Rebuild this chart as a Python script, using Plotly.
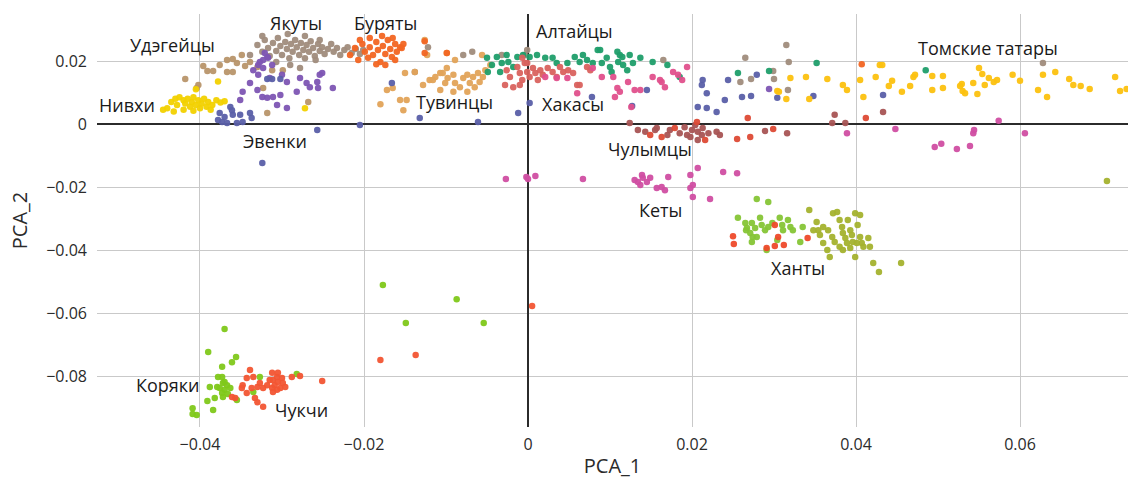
import plotly.graph_objects as go

# ---------------- data (PCA coordinates) ----------------
nivkh_x = [-0.0445, -0.0440, -0.0435, -0.0430, -0.0428, -0.0425, -0.0420, -0.0418, -0.0415, -0.0412,
           -0.0410, -0.0408, -0.0405, -0.0402, -0.0400, -0.0398, -0.0395, -0.0392, -0.0390, -0.0387,
           -0.0385, -0.0380, -0.0375, -0.0370, -0.0405, -0.0378, -0.0272, -0.0432, -0.0420, -0.0408]
nivkh_y = [0.0045, 0.0050, 0.0070, 0.0080, 0.0060, 0.0085, 0.0075, 0.0065, 0.0080, 0.0055,
           0.0070, 0.0085, 0.0060, 0.0075, 0.0050, 0.0065, 0.0080, 0.0055, 0.0070, 0.0045,
           0.0060, 0.0075, 0.0068, 0.0072, 0.0110, 0.0135, 0.0050, 0.0040, 0.0045, 0.0042]

tomsk_x = [0.0320, 0.0315, 0.0339, 0.0343, 0.0365, 0.0384, 0.0389, 0.0405, 0.0409, 0.0424,
           0.0429, 0.0432, 0.0440, 0.0444, 0.0456, 0.0466, 0.0470, 0.0472, 0.0493, 0.0493,
           0.0506, 0.0506, 0.0527, 0.0529, 0.0530, 0.0533, 0.0543, 0.0548, 0.0550, 0.0554,
           0.0557, 0.0562, 0.0568, 0.0572, 0.0591, 0.0600, 0.0622, 0.0628, 0.0633, 0.0643,
           0.0660, 0.0665, 0.0674, 0.0685, 0.0716, 0.0722, 0.0730, 0.0304, 0.0306]
tomsk_y = [0.0146, 0.0079, 0.0149, 0.0079, 0.0143, 0.0124, 0.0108, 0.0140, 0.0086, 0.0149,
           0.0187, 0.0187, 0.0121, 0.0137, 0.0102, 0.0121, 0.0149, 0.0156, 0.0152, 0.0108,
           0.0152, 0.0114, 0.0121, 0.0127, 0.0105, 0.0098, 0.0130, 0.0095, 0.0178, 0.0159,
           0.0124, 0.0146, 0.0133, 0.0140, 0.0156, 0.0137, 0.0108, 0.0156, 0.0086, 0.0165,
           0.0143, 0.0124, 0.0121, 0.0111, 0.0149, 0.0105, 0.0111, 0.0105, 0.0102]

udege_x = [-0.0367, -0.0360, -0.0355, -0.0349, -0.0391, -0.0384, -0.0367, -0.0360, -0.0418, -0.0402,
           -0.0404, -0.0339, -0.0330, -0.0323, -0.0312, -0.0299, -0.0268, -0.0318, -0.0376, -0.0345,
           -0.0396]
udege_y = [0.0203, 0.0206, 0.0194, 0.0219, 0.0168, 0.0168, 0.0165, 0.0165, 0.0143, 0.0124,
           0.0114, 0.0197, 0.0181, 0.0114, 0.0171, 0.0171, 0.0070, 0.0035, 0.0187, 0.0184,
           0.0184]

yakut_x = [-0.0330, -0.0324, -0.0321, -0.0317, -0.0315, -0.0311, -0.0307, -0.0305, -0.0302, -0.0300,
           -0.0296, -0.0294, -0.0291, -0.0289, -0.0287, -0.0284, -0.0282, -0.0279, -0.0277, -0.0274,
           -0.0272, -0.0270, -0.0267, -0.0265, -0.0262, -0.0260, -0.0256, -0.0254, -0.0251, -0.0248,
           -0.0244, -0.0240, -0.0237, -0.0233, -0.0229, -0.0224, -0.0220, -0.0215, -0.0210, -0.0205,
           -0.0201, -0.0290, -0.0278, -0.0307, -0.0339, -0.0324, -0.0293, -0.0272, -0.0254, -0.0259,
           0.0265, 0.0259, 0.0272, 0.0300, 0.0299, 0.0315, 0.0318, 0.0317, 0.0628,
           -0.0079, -0.0068, -0.0122, -0.0032, -0.0001, -0.0004, -0.0138, 0.0165]
yakut_y = [0.0251, 0.0229, 0.0267, 0.0241, 0.0216, 0.0257, 0.0232, 0.0273, 0.0248, 0.0219,
           0.0260, 0.0238, 0.0209, 0.0254, 0.0229, 0.0267, 0.0244, 0.0219, 0.0257, 0.0235,
           0.0209, 0.0251, 0.0229, 0.0263, 0.0241, 0.0216, 0.0254, 0.0232, 0.0244, 0.0222,
           0.0238, 0.0254, 0.0229, 0.0241, 0.0219, 0.0235, 0.0244, 0.0225, 0.0238, 0.0222,
           0.0235, 0.0187, 0.0178, 0.0197, 0.0219, 0.0279, 0.0286, 0.0279, 0.0267, 0.0203,
           0.0210, 0.0133, 0.0143, 0.0143, 0.0168, 0.0251, 0.0197, 0.0108, 0.0194,
           0.0219, 0.0229, 0.0244, 0.0219, 0.0235, 0.0219, 0.0165, 0.0203]

buryat_x = [-0.0217, -0.0211, -0.0207, -0.0202, -0.0199, -0.0195, -0.0193, -0.0189, -0.0185, -0.0183,
            -0.0180, -0.0177, -0.0174, -0.0171, -0.0168, -0.0166, -0.0162, -0.0160, -0.0156, -0.0152,
            -0.0185, -0.0174, -0.0162, -0.0205, -0.0193, -0.0178, -0.0165,
            -0.0154, -0.0126, -0.0126, -0.0099, 0.0407]
buryat_y = [0.0219, 0.0241, 0.0203, 0.0254, 0.0229, 0.0210, 0.0244, 0.0219, 0.0260, 0.0235,
            0.0197, 0.0248, 0.0222, 0.0267, 0.0238, 0.0213, 0.0254, 0.0229, 0.0244, 0.0254,
            0.0190, 0.0187, 0.0203, 0.0267, 0.0273, 0.0279, 0.0273,
            0.0241, 0.0225, 0.0263, 0.0225, 0.0190]

evenk_purple_x = [-0.0321, -0.0317, -0.0327, -0.0312, -0.0323, -0.0335, -0.0329, -0.0315, -0.0300, -0.0294,
                  -0.0278, -0.0270, -0.0257, -0.0256, -0.0266, -0.0238, -0.0251, -0.0282, -0.0302, -0.0311,
                  -0.0318, -0.0324, -0.0306, -0.0294, -0.0339, -0.0348, -0.0351, -0.0330, -0.0254,
                  -0.0329, -0.0323, -0.0318, 0.0294]
evenk_purple_y = [0.0225, 0.0210, 0.0197, 0.0187, 0.0178, 0.0171, 0.0156, 0.0146, 0.0156, 0.0133,
                  0.0146, 0.0130, 0.0133, 0.0114, 0.0117, 0.0114, 0.0162, 0.0102, 0.0092, 0.0086,
                  0.0083, 0.0086, 0.0060, 0.0051, 0.0130, 0.0102, 0.0076, 0.0108, 0.0156,
                  0.0187, 0.0203, 0.0213, 0.0111]

evenk_blue_x = [-0.0318, -0.0312, -0.0302, -0.0363, -0.0376, -0.0370, -0.0360, -0.0351, -0.0373, -0.0367,
                -0.0355, -0.0348, -0.0339, -0.0337, -0.0378, -0.0361, -0.0324, -0.0257, -0.0205, -0.0132,
                -0.0166, -0.0061, -0.0012, 0.0002, 0.0078, 0.0127, 0.0145, 0.0213, 0.0212, 0.0218,
                0.0207, 0.0218, 0.0240, 0.0230, 0.0244, 0.0279, 0.0261, 0.0272, 0.0304, 0.0348,
                0.0433]
evenk_blue_y = [0.0143, 0.0143, 0.0143, 0.0054, 0.0035, 0.0022, 0.0029, 0.0029, 0.0006, 0.0003,
                0.0003, 0.0006, 0.0035, 0.0019, 0.0013, 0.0044, -0.0124, -0.0019, -0.0003, 0.0019,
                0.0130, 0.0006, 0.0035, 0.0067, 0.0086, 0.0057, 0.0108, 0.0140, 0.0124, 0.0098,
                0.0054, 0.0051, 0.0076, 0.0038, 0.0140, 0.0156, 0.0086, 0.0089, 0.0083, 0.0089,
                0.0092]

tuvin_x = [-0.0120, -0.0113, -0.0104, -0.0101, -0.0098, -0.0091, -0.0089, -0.0083, -0.0079, -0.0074,
           -0.0071, -0.0067, -0.0065, -0.0061, -0.0059, -0.0055, -0.0052, -0.0046, -0.0074, -0.0091,
           -0.0107, -0.0128, -0.0056, -0.0099, -0.0123, -0.0089, -0.0150, -0.0148, -0.0152, -0.0116,
           -0.0107, -0.0099, -0.0172, -0.0165, -0.0180, -0.0156, -0.0138, -0.0126]
tuvin_y = [0.0140, 0.0149, 0.0162, 0.0130, 0.0146, 0.0156, 0.0130, 0.0117, 0.0146, 0.0156,
           0.0130, 0.0149, 0.0117, 0.0162, 0.0133, 0.0149, 0.0171, 0.0187, 0.0102, 0.0102,
           0.0108, 0.0124, 0.0219, 0.0225, 0.0219, 0.0203, 0.0162, 0.0076, 0.0044, 0.0140,
           0.0162, 0.0178, 0.0108, 0.0114, 0.0063, 0.0076, 0.0165, 0.0267]

altai_x = [-0.0050, -0.0044, -0.0038, -0.0032, -0.0026, -0.0024, -0.0013, -0.0006, 0.0002, 0.0011,
           0.0021, 0.0030, 0.0035, 0.0048, 0.0057, 0.0063, 0.0067, 0.0072, 0.0079, 0.0085,
           0.0090, 0.0096, 0.0100, 0.0102, 0.0110, 0.0112, 0.0116, 0.0121, 0.0124, 0.0128,
           0.0137, 0.0152, 0.0170, 0.0185, -0.0049, -0.0034, -0.0018, 0.0088, 0.0109, 0.0115,
           0.0256, 0.0294, 0.0352, 0.0485]
altai_y = [0.0210, 0.0187, 0.0213, 0.0194, 0.0219, 0.0197, 0.0213, 0.0219, 0.0213, 0.0219,
           0.0210, 0.0210, 0.0194, 0.0194, 0.0213, 0.0197, 0.0219, 0.0203, 0.0194, 0.0235,
           0.0194, 0.0210, 0.0181, 0.0165, 0.0197, 0.0219, 0.0187, 0.0171, 0.0219, 0.0194,
           0.0210, 0.0197, 0.0187, 0.0149, 0.0165, 0.0165, 0.0181, 0.0235, 0.0229, 0.0213,
           0.0162, 0.0168, 0.0194, 0.0171]

khakas_x = [-0.0026, -0.0022, -0.0013, -0.0010, -0.0007, -0.0004, -0.0001, 0.0002, 0.0006, 0.0009,
            0.0012, 0.0015, 0.0018, 0.0024, 0.0030, 0.0035, 0.0039, 0.0043, 0.0049, 0.0055,
            0.0060, 0.0063, 0.0072, 0.0076, -0.0028, -0.0018, -0.0010, -0.0001, -0.0007]
khakas_y = [0.0171, 0.0149, 0.0181, 0.0162, 0.0140, 0.0194, 0.0165, 0.0149, 0.0178, 0.0162,
            0.0140, 0.0171, 0.0156, 0.0178, 0.0165, 0.0149, 0.0181, 0.0165, 0.0171, 0.0162,
            0.0124, 0.0124, 0.0181, 0.0171, 0.0124, 0.0117, 0.0124, 0.0194, 0.0210]

khakas_pink_x = [0.0021, 0.0035, 0.0060, 0.0079, 0.0090, 0.0104, 0.0109, 0.0112, 0.0122, 0.0130,
                 0.0137, 0.0152, 0.0163, 0.0177, 0.0183, 0.0188, 0.0194, 0.0048, 0.0126, 0.0106,
                 0.0161, 0.0167]
khakas_pink_y = [0.0149, 0.0146, 0.0098, 0.0178, 0.0149, 0.0149, 0.0114, 0.0102, 0.0133, 0.0108,
                 0.0108, 0.0149, 0.0133, 0.0165, 0.0156, 0.0140, 0.0181, 0.0146, 0.0054, 0.0086,
                 0.0140, 0.0117]

chulym_x = [0.0124, 0.0134, 0.0143, 0.0155, 0.0170, 0.0173, 0.0185, 0.0191, 0.0194, 0.0200,
            0.0204, 0.0207, 0.0212, 0.0213, 0.0220, 0.0230, 0.0234, 0.0289, 0.0316, 0.0374,
            0.0371, 0.0387, 0.0433, 0.0157, 0.0198, 0.0207]
chulym_y = [0.0003, -0.0019, -0.0025, -0.0019, -0.0035, -0.0019, -0.0029, -0.0010, -0.0035, -0.0019,
            -0.0003, -0.0051, -0.0035, -0.0013, -0.0029, -0.0025, -0.0035, -0.0022, -0.0029, 0.0029,
            0.0003, 0.0003, 0.0038, -0.0013, -0.0041, -0.0025]

chulym_red_x = [0.0149, 0.0163, 0.0179, 0.0206, 0.0216, 0.0255, 0.0271, 0.0299, 0.0268, 0.0412]
chulym_red_y = [-0.0035, -0.0041, -0.0013, 0.0006, -0.0051, -0.0048, -0.0041, -0.0016, 0.0019, 0.0019]

ket_x = [0.0130, 0.0134, 0.0139, 0.0140, 0.0137, 0.0145, 0.0149, 0.0157, 0.0163, 0.0167,
         0.0171, 0.0198, 0.0198, 0.0201, 0.0201, 0.0207, 0.0222, 0.0238, 0.0255, 0.0067,
         -0.0027, -0.0002, 0.0000, 0.0009, 0.0389, 0.0448, 0.0496, 0.0504, 0.0523, 0.0539,
         0.0543, 0.0544, 0.0574, 0.0606]
ket_y = [-0.0178, -0.0184, -0.0162, -0.0171, -0.0194, -0.0184, -0.0171, -0.0203, -0.0200, -0.0210,
         -0.0168, -0.0162, -0.0203, -0.0194, -0.0232, -0.0140, -0.0238, -0.0152, -0.0156, -0.0175,
         -0.0175, -0.0168, -0.0175, -0.0165, -0.0029, -0.0016, -0.0073, -0.0063, -0.0079, -0.0070,
         -0.0029, -0.0019, 0.0010, -0.0029]

khanty_x = [0.0256, 0.0265, 0.0267, 0.0273, 0.0277, 0.0283, 0.0285, 0.0289, 0.0293, 0.0298,
            0.0307, 0.0310, 0.0311, 0.0317, 0.0320, 0.0323, 0.0274, 0.0273, 0.0279, 0.0291,
            0.0304, 0.0279, 0.0293, 0.0266, 0.0271, 0.0335, 0.0332]
khanty_y = [-0.0298, -0.0314, -0.0330, -0.0314, -0.0330, -0.0298, -0.0321, -0.0337, -0.0327, -0.0314,
            -0.0298, -0.0321, -0.0337, -0.0305, -0.0327, -0.0337, -0.0359, -0.0375, -0.0359, -0.0400,
            -0.0368, -0.0238, -0.0248, -0.0337, -0.0346, -0.0327, -0.0375]

khanty_olive_x = [0.0343, 0.0352, 0.0354, 0.0356, 0.0360, 0.0365, 0.0368, 0.0366, 0.0371, 0.0374,
                  0.0372, 0.0377, 0.0380, 0.0383, 0.0384, 0.0387, 0.0389, 0.0390, 0.0393, 0.0395,
                  0.0396, 0.0399, 0.0402, 0.0405, 0.0405, 0.0407, 0.0409, 0.0415, 0.0417, 0.0399,
                  0.0421, 0.0428, 0.0455, 0.0348, 0.0360, 0.0380, 0.0384, 0.0393, 0.0401, 0.0706]
khanty_olive_y = [-0.0273, -0.0311, -0.0337, -0.0352, -0.0378, -0.0400, -0.0422, -0.0337, -0.0359, -0.0375,
                  -0.0283, -0.0279, -0.0305, -0.0327, -0.0346, -0.0362, -0.0378, -0.0305, -0.0337, -0.0352,
                  -0.0375, -0.0283, -0.0321, -0.0289, -0.0359, -0.0378, -0.0390, -0.0362, -0.0390, -0.0422,
                  -0.0441, -0.0470, -0.0441, -0.0337, -0.0327, -0.0390, -0.0400, -0.0394, -0.0378, -0.0181]

selkup_x = [0.0250, 0.0251, 0.0301, 0.0305, 0.0312, 0.0301, 0.0291, 0.0341]
selkup_y = [-0.0356, -0.0381, -0.0321, -0.0359, -0.0384, -0.0387, -0.0394, -0.0362]

koryak_x = [-0.0370, -0.0390, -0.0373, -0.0361, -0.0356, -0.0378, -0.0373, -0.0388, -0.0379, -0.0372,
            -0.0367, -0.0370, -0.0373, -0.0382, -0.0391, -0.0384, -0.0409, -0.0409, -0.0404, -0.0363,
            -0.0355, -0.0366, -0.0335, -0.0327, -0.0282, -0.0376, -0.0372, -0.0370,
            -0.0177, -0.0149, -0.0087, -0.0054]
koryak_y = [-0.0651, -0.0724, -0.0771, -0.0756, -0.0740, -0.0803, -0.0803, -0.0835, -0.0835, -0.0822,
            -0.0829, -0.0844, -0.0854, -0.0870, -0.0879, -0.0908, -0.0902, -0.0921, -0.0924, -0.0838,
            -0.0876, -0.0857, -0.0851, -0.0803, -0.0794, -0.0838, -0.0867, -0.0819,
            -0.0511, -0.0632, -0.0556, -0.0632]

chukchi_x = [-0.0339, -0.0335, -0.0343, -0.0348, -0.0349, -0.0343, -0.0330, -0.0327, -0.0323, -0.0318,
             -0.0312, -0.0311, -0.0309, -0.0306, -0.0305, -0.0302, -0.0300, -0.0299, -0.0296, -0.0306,
             -0.0312, -0.0288, -0.0278, -0.0251, -0.0333, -0.0323, -0.0330, -0.0337, -0.0361, -0.0357,
             -0.0315, -0.0305, -0.0311, -0.0180, -0.0137, 0.0005]
chukchi_y = [-0.0781, -0.0803, -0.0806, -0.0829, -0.0838, -0.0854, -0.0835, -0.0822, -0.0838, -0.0829,
             -0.0790, -0.0813, -0.0829, -0.0803, -0.0819, -0.0838, -0.0806, -0.0822, -0.0835, -0.0844,
             -0.0838, -0.0803, -0.0800, -0.0816, -0.0870, -0.0898, -0.0883, -0.0838, -0.0867, -0.0870,
             -0.0813, -0.0790, -0.0851, -0.0749, -0.0733, -0.0578]

label_text = ["Удэгейцы", "Якуты", "Буряты", "Алтайцы", "Томские татары", "Нивхи", "Тувинцы",
              "Хакасы", "Эвенки", "Чулымцы", "Кеты", "Ханты", "Коряки", "Чукчи"]
label_x = [-0.0433, -0.0283, -0.0174, 0.0057, 0.0561, -0.0489, -0.0090,
           0.0055, -0.0309, 0.0149, 0.0161, 0.0329, -0.0439, -0.0276]
label_y = [0.0251, 0.0321, 0.0321, 0.0295, 0.0241, 0.0060, 0.0070,
           0.0063, -0.0054, -0.0079, -0.0273, -0.0457, -0.0829, -0.0908]

# ---------------- figure ----------------
groups = [
    (udege_x, udege_y, "#b8956a"),
    (yakut_x, yakut_y, "#a08c7c"),
    (tuvin_x, tuvin_y, "#e2a358"),
    (buryat_x, buryat_y, "#f26522"),
    (evenk_purple_x, evenk_purple_y, "#7d55b3"),
    (evenk_blue_x, evenk_blue_y, "#5a5fa8"),
    (nivkh_x, nivkh_y, "#f2d100"),
    (tomsk_x, tomsk_y, "#fcc10f"),
    (altai_x, altai_y, "#1f9e6a"),
    (khakas_x, khakas_y, "#d9625e"),
    (khakas_pink_x, khakas_pink_y, "#e0508c"),
    (chulym_x, chulym_y, "#a85454"),
    (chulym_red_x, chulym_red_y, "#dd4a35"),
    (ket_x, ket_y, "#d04ea2"),
    (khanty_x, khanty_y, "#86c536"),
    (khanty_olive_x, khanty_olive_y, "#a4b22e"),
    (selkup_x, selkup_y, "#ee4a2a"),
    (koryak_x, koryak_y, "#80c81a"),
    (chukchi_x, chukchi_y, "#f25533"),
]

fig = go.Figure()
for gx, gy, col in groups:
    fig.add_trace(go.Scatter(x=gx, y=gy, mode="markers",
                             marker=dict(size=6.5, color=col, opacity=0.95, line=dict(width=0)),
                             showlegend=False, hoverinfo="skip"))

for t, lx, ly in zip(label_text, label_x, label_y):
    fig.add_annotation(x=lx, y=ly, text=t, showarrow=False,
                       font=dict(size=18, color="#1a1a1a", family="Open Sans"))

axis_common = dict(showgrid=True, gridcolor="#c9c9c9", gridwidth=1,
                   zeroline=True, zerolinecolor="#2b2b2b", zerolinewidth=1.6,
                   showline=False, ticks="", tickfont=dict(size=16, color="#2b2b2b"),
                   dtick=0.02)

fig.update_layout(
    width=1128, height=479,
    margin=dict(l=97, r=0, t=14, b=52),
    paper_bgcolor="white", plot_bgcolor="white",
    font=dict(family="Open Sans", color="#2b2b2b"),
    xaxis=dict(range=[-0.05256, 0.07317], title=dict(text="PCA_1", font=dict(size=20), standoff=8),
               ticklabelstandoff=6, **axis_common),
    yaxis=dict(range=[-0.09619, 0.03492], title=dict(text="PCA_2", font=dict(size=20), standoff=13),
               ticklabelstandoff=9, **axis_common),
)

fig.write_html("out.html")
